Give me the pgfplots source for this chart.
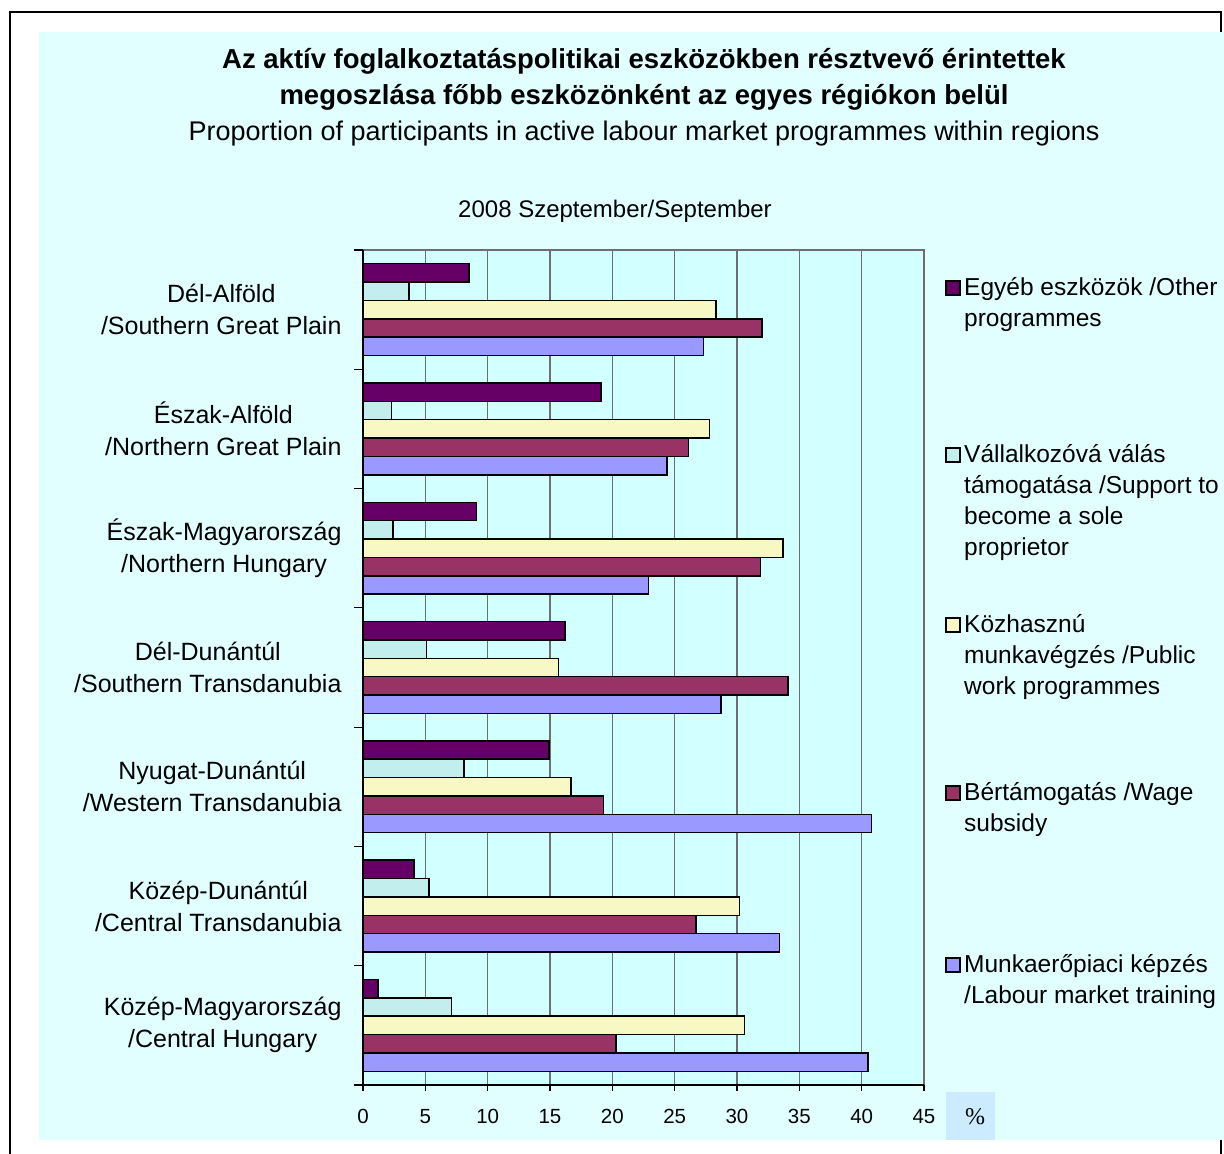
\documentclass[border=0pt]{standalone}
\usepackage{fontspec}
\setmainfont{Liberation Sans}
\newfontfamily\seriffont{Liberation Serif}
\usepackage{pgfplots}
\pgfplotsset{compat=1.18}

\definecolor{panel}{HTML}{E2FFFF}
\definecolor{plotbg}{HTML}{D2FFFF}
\definecolor{pctbox}{HTML}{CCEBFF}
\definecolor{gridc}{HTML}{6E6E6E}
\definecolor{cPurple}{HTML}{660066}
\definecolor{cCyan}{HTML}{C2EEEE}
\definecolor{cYellow}{HTML}{F8F8C4}
\definecolor{cMaroon}{HTML}{993366}
\definecolor{cBlue}{HTML}{9999FF}

% y in pixels from the top of the image
\newcommand{\py}[1]{\fpeval{1154-(#1)}}
\newcommand{\legbox}[2]{%
  \draw[draw=black, fill=#1, line width=1.2pt] (946pt,\py{#2}pt) rectangle (960pt,\py{#2+14}pt);}
\newcommand{\legline}[2]{%
  \node[anchor=base west, inner sep=0pt, font=\fontsize{24.5}{29}\selectfont]
    at (964pt,\py{#1}pt) {#2};}

\begin{document}
\begin{tikzpicture}
\useasboundingbox (0pt,0pt) rectangle (1224pt,1154pt);
\clip (0pt,0pt) rectangle (1224pt,1154pt);
\fill[white] (0pt,0pt) rectangle (1224pt,1154pt);
\draw[black, line width=1.5pt] (10pt,\py{12}pt) rectangle (1221pt,-20pt);
\fill[panel] (39pt,\py{32}pt) rectangle (1240pt,\py{1140}pt);
\fill[pctbox] (946pt,\py{1092}pt) rectangle (995pt,\py{1140}pt);
\node[font=\seriffont\fontsize{24}{28}\selectfont] at (975pt,\py{1117}pt) {\%};

% titles
\node[anchor=base, inner sep=0pt, font=\bfseries\fontsize{27.5}{32}\selectfont]
  at (644pt,\py{69}pt) {Az aktív foglalkoztatáspolitikai eszközökben résztvevő érintettek};
\node[anchor=base, inner sep=0pt, font=\bfseries\fontsize{27.5}{32}\selectfont]
  at (644pt,\py{105}pt) {megoszlása főbb eszközönként az egyes régiókon belül};
\node[anchor=base, inner sep=0pt, font=\fontsize{27}{32}\selectfont]
  at (644pt,\py{141}pt) {Proportion of participants in active labour market programmes within regions};
\node[anchor=base, inner sep=0pt, font=\fontsize{24}{28}\selectfont]
  at (615pt,\py{218}pt) {2008 Szeptember/September};

\begin{axis}[
  at={(363pt,\py{1085}pt)}, anchor=south west,
  scale only axis, width=561pt, height=835pt,
  xbar, bar width=0.154,
  xmin=0, xmax=45, ymin=-0.5, ymax=6.5,
  axis background/.style={fill=plotbg, draw=gridc, line width=1.2pt},
  axis x line*=bottom, axis y line*=left,
  axis line style={black, line width=1.2pt},
  xtick={0,5,...,45},
  xmajorgrids, major x grid style={gridc, line width=1.2pt},
  ytick={0,...,6},
  yticklabels={{Közép-Magyarország\\/Central Hungary},
               {Közép-Dunántúl\\/Central Transdanubia},
               {Nyugat-Dunántúl\\/Western Transdanubia},
               {Dél-Dunántúl\\/Southern Transdanubia},
               {Észak-Magyarország\\/Northern Hungary},
               {Észak-Alföld\\/Northern Great Plain},
               {Dél-Alföld\\/Southern Great Plain}},
  minor ytick={-0.5,0.5,...,6.5},
  tick align=outside, major tick length=6pt, minor tick length=9pt,
  major y tick style={draw=none},
  every tick/.style={black, line width=1.2pt},
  /pgf/number format/assume math mode=true,
  xticklabel style={font=\fontsize{20.5}{24}\selectfont, yshift=-15pt},
  yticklabel style={font=\fontsize{25}{32}\selectfont, align=center, xshift=-12pt},
  every axis plot/.append style={draw=black, line width=1.5pt},
]
% Munkaerőpiaci képzés /Labour market training
\addplot[bar shift=-0.308, fill=cBlue]
  coordinates {(40.5,0) (33.4,1) (40.8,2) (28.7,3) (22.9,4) (24.4,5) (27.3,6)};
% Bértámogatás /Wage subsidy
\addplot[bar shift=-0.154, fill=cMaroon]
  coordinates {(20.3,0) (26.7,1) (19.3,2) (34.1,3) (31.9,4) (26.1,5) (32.0,6)};
% Közhasznú munkavégzés /Public work programmes
\addplot[bar shift=0, fill=cYellow]
  coordinates {(30.6,0) (30.2,1) (16.7,2) (15.7,3) (33.7,4) (27.8,5) (28.3,6)};
% Vállalkozóvá válás támogatása /Support to become a sole proprietor
\addplot[bar shift=0.154, fill=cCyan]
  coordinates {(7.1,0) (5.3,1) (8.1,2) (5.1,3) (2.4,4) (2.3,5) (3.7,6)};
% Egyéb eszközök /Other programmes
\addplot[bar shift=0.308, fill=cPurple]
  coordinates {(1.2,0) (4.1,1) (14.9,2) (16.2,3) (9.1,4) (19.1,5) (8.5,6)};
\end{axis}

% legend
\legbox{cPurple}{281}
\legline{296}{Egyéb eszközök /Other}
\legline{327}{programmes}
\legbox{cCyan}{448}
\legline{463}{Vállalkozóvá válás}
\legline{494}{támogatása /Support to}
\legline{525}{become a sole}
\legline{556}{proprietor}
\legbox{cYellow}{618}
\legline{633}{Közhasznú}
\legline{664}{munkavégzés /Public}
\legline{695}{work programmes}
\legbox{cMaroon}{786}
\legline{801}{Bértámogatás /Wage}
\legline{832}{subsidy}
\legbox{cBlue}{958}
\legline{973}{Munkaerőpiaci képzés}
\legline{1004}{/Labour market training}
\end{tikzpicture}
\end{document}
